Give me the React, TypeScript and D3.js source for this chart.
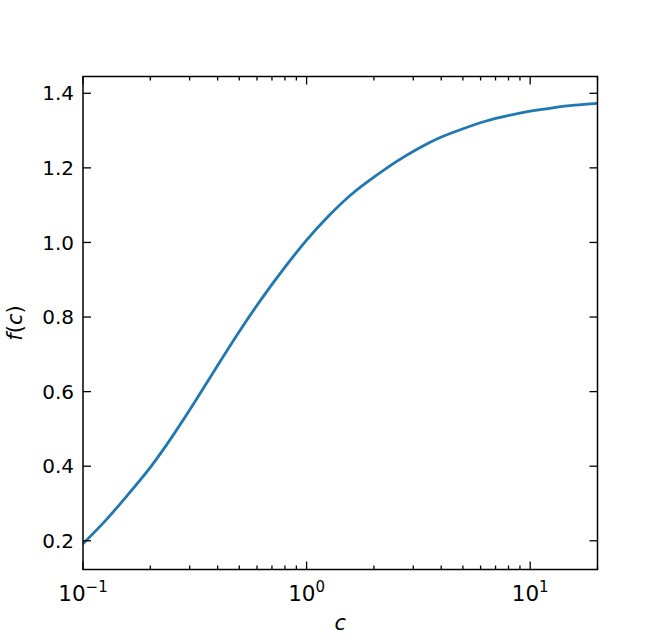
import React from "react";
import * as d3 from "d3";

const cValues = [0.1, 0.126, 0.158, 0.2, 0.251, 0.316, 0.398, 0.501, 0.631, 0.794, 1, 1.26, 1.58, 2, 2.51, 3.16, 3.98, 5.01, 6.31, 7.94, 10, 12.6, 15.8, 20];
const fValues = [0.192, 0.254, 0.322, 0.397, 0.480, 0.572, 0.668, 0.762, 0.850, 0.931, 1.006, 1.072, 1.128, 1.175, 1.216, 1.252, 1.282, 1.305, 1.325, 1.340, 1.352, 1.361, 1.368, 1.373];
const yTicks = [0.2, 0.4, 0.6, 0.8, 1.0, 1.2, 1.4];
const xMajorTicks = [0.1, 1, 10];
const xMajorExp = ["\u22121", "0", "1"];
const xMinorTicks = [0.2, 0.3, 0.4, 0.5, 0.6, 0.7, 0.8, 0.9, 2, 3, 4, 5, 6, 7, 8, 9, 20];

const W = 664, H = 640;
const L = 83, R = 597.5, T = 76.5, B = 569.5;
const FONT = "DejaVu Sans, sans-serif";
const FS = 20;

export default function App() {
  const x = d3.scaleLog().domain([0.1, 20]).range([L, R]);
  const y = d3.scaleLinear().domain([0.123, 1.445]).range([B, T]);
  const pts: [number, number][] = cValues.map((c, i) => [c, fValues[i]]);
  const line = d3.line<[number, number]>().x(d => x(d[0])).y(d => y(d[1])).curve(d3.curveNatural);
  const major = 8, minor = 4;
  return (
    <svg width={W} height={H} style={{ position: "absolute", left: 0, top: 0 }} fontFamily={FONT}>
      <rect width={W} height={H} fill="white" />
      <defs>
        <clipPath id="clip"><rect x={L} y={T} width={R - L} height={B - T} /></clipPath>
      </defs>
      <path d={line(pts) || ""} fill="none" stroke="#1f77b4" strokeWidth={2.8} clipPath="url(#clip)" />
      <g stroke="black" strokeWidth={1.3}>
        {yTicks.map(t => (
          <g key={"y" + t}>
            <line x1={L} x2={L + major} y1={y(t)} y2={y(t)} />
            <line x1={R} x2={R - major} y1={y(t)} y2={y(t)} />
          </g>
        ))}
        {xMajorTicks.map(t => (
          <g key={"xm" + t}>
            <line x1={x(t)} x2={x(t)} y1={B} y2={B - major} />
            <line x1={x(t)} x2={x(t)} y1={T} y2={T + major} />
          </g>
        ))}
        {xMinorTicks.map(t => (
          <g key={"xn" + t}>
            <line x1={x(t)} x2={x(t)} y1={B} y2={B - minor} />
            <line x1={x(t)} x2={x(t)} y1={T} y2={T + minor} />
          </g>
        ))}
      </g>
      <rect x={L} y={T} width={R - L} height={B - T} fill="none" stroke="black" strokeWidth={1.5} />
      {yTicks.map(t => (
        <text key={"yl" + t} x={L - 9} y={y(t)} dy="0.36em" textAnchor="end" fontSize={FS}>{t.toFixed(1)}</text>
      ))}
      {xMajorTicks.map((t, i) => (
        <text key={"xl" + t} x={x(t)} y={B + 31} textAnchor="middle" fontSize={21.5}>
          10<tspan dy={-8.5} fontSize={15}>{xMajorExp[i]}</tspan>
        </text>
      ))}
      <text x={(L + R) / 2} y={630} textAnchor="middle" fontSize={21} fontStyle="italic">c</text>
      <text transform={`translate(22, ${(T + B) / 2}) rotate(-90)`} textAnchor="middle" fontSize={21}>
        <tspan fontStyle="italic">f</tspan>(<tspan fontStyle="italic">c</tspan>)
      </text>
    </svg>
  );
}
